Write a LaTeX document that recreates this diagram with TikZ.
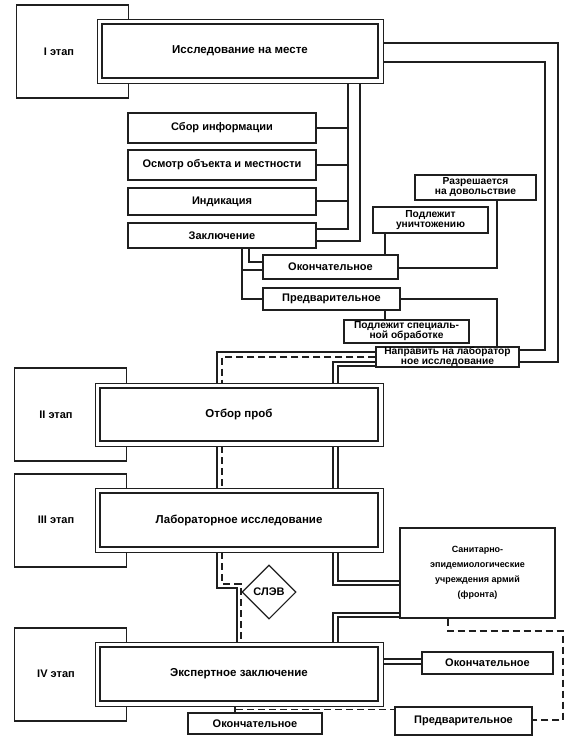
\documentclass[tikz,border=0pt]{standalone}
\usepackage{fontspec}
\setmainfont{Liberation Sans}
\usetikzlibrary{shapes.geometric}
\begin{document}
\begin{tikzpicture}[x=1pt,y=-1pt]
\tikzset{
  ln/.style={draw=black!88, line width=1.1pt},
  dsh/.style={draw=black!88, line width=1.1pt, dash pattern=on 7pt off 4pt},
  bx/.style={draw=black!88, line width=1.2pt, fill=white, inner sep=0pt, align=center,
    font=\fontsize{11}{11.5}\selectfont\bfseries},
  smallbx/.style={bx, font=\fontsize{10.2}{10}\selectfont\bfseries},
  stagebx/.style={draw=black!88, line width=1.1pt, fill=white, minimum width=112pt, minimum height=93pt, inner sep=0pt},
  stagetxt/.style={inner sep=0pt, font=\fontsize{11}{11}\selectfont\bfseries},
  mainout/.style={draw=black!88, line width=0.9pt, fill=white, minimum width=288pt, minimum height=64pt, inner sep=0pt},
  mainin/.style={bx, line width=1.9pt, minimum width=278pt, minimum height=54pt, font=\fontsize{11.5}{12}\selectfont\bfseries},
}
\useasboundingbox[fill=white] (0,0) rectangle (567,743);

% ---------- Stage I ----------
\node[stagebx] (s1) at (72.5,51.5) {};
\node[stagetxt] (s1t) at (59,52) {I этап};
\node[mainout, minimum width=286pt] (m1o) at (240,51) {};
\node[mainin, minimum width=276pt] (m1) at (240,51) {Исследование на месте};

\node[bx, minimum width=188pt, minimum height=30pt] (sbor) at (222,128) {Сбор информации};
\node[bx, minimum width=188pt, minimum height=30pt] (osm) at (222,165) {Осмотр объекта и местности};
\node[bx, minimum width=188pt, minimum height=27pt] (ind) at (222,201.5) {Индикация};
\node[bx, minimum width=188pt, minimum height=25pt] (zakl) at (222,235.5) {Заключение};

\node[smallbx, minimum width=121pt, minimum height=25pt] (rz) at (475.5,187.5) {Разрешается\\на довольствие};
\node[smallbx, minimum width=115pt, minimum height=26pt] (pu) at (430.5,220) {Подлежит\\уничтожению};
\node[bx, minimum width=135pt, minimum height=24pt] (ok1) at (330.5,267) {Окончательное};
\node[bx, minimum width=137pt, minimum height=22pt] (pr1) at (331.5,299) {Предварительное};
\node[smallbx, minimum width=125pt, minimum height=23pt] (ps) at (406.5,331.5) {Подлежит специаль-\\ной обработке};
\node[smallbx, minimum width=143pt, minimum height=20pt] (napr) at (447.5,357) {Направить на лаборатор\\ное исследование};

% bus from main box I
\draw[ln] (m1o.south -| 348,0) -- (348,229) -- (zakl.east |- 0,229);
\draw[ln] (348,128) -- (sbor.east |- 0,128);
\draw[ln] (348,165) -- (osm.east |- 0,165);
\draw[ln] (348,201) -- (ind.east |- 0,201);
\draw[ln] (m1o.south -| 360,0) -- (360,241) -- (zakl.east |- 0,241);

% right loop
\draw[ln] (m1o.east |- 0,43) -- (558,43) -- (558,362) -- (napr.east |- 0,362);
\draw[ln] (m1o.east |- 0,62) -- (545,62) -- (545,350) -- (napr.east |- 0,350);

% conclusion branches
\draw[ln] (zakl.south -| 249,0) -- (249,262) -- (ok1.west |- 0,262);
\draw[ln] (zakl.south -| 242,0) -- (242,299) -- (pr1.west |- 0,299);
\draw[ln] (242,270) -- (ok1.west |- 0,270);
\draw[ln] (pu.south -| 385,0) -- (ok1.north -| 385,0);
\draw[ln] (rz.south -| 497,0) -- (497,268) -- (ok1.east |- 0,268);
\draw[ln] (pr1.east) -- (497,299) -- (napr.north -| 497,0);
\draw[ln] (pr1.south -| 385,0) -- (ps.north -| 385,0);

% ---------- Stage II ----------
\node[stagebx] (s2) at (70.5,414.5) {};
\node[stagetxt] (s2t) at (56,414.5) {II этап};
\node[mainout, minimum height=63pt] (m2o) at (239,414.5) {};
\node[mainin, minimum height=53pt] (m2) at (239,414.5) {Отбор проб};

\draw[ln] (napr.west |- 0,352) -- (217,352) -- (m2o.north -| 217,0);
\draw[dsh] (napr.west |- 0,357) -- (222,357) -- (m2o.north -| 222,0);
\draw[ln] (napr.west |- 0,362) -- (333,362) -- (m2o.north -| 333,0);
\draw[ln] (napr.west |- 0,366) -- (338,366) -- (m2o.north -| 338,0);

% ---------- Stage III ----------
\node[stagebx] (s3) at (70.5,520.5) {};
\node[stagetxt] (s3t) at (56,520) {III этап};
\node[mainout] (m3o) at (239,520) {};
\node[mainin] (m3) at (239,520) {Лабораторное исследование};

\draw[ln] (m2o.south -| 217,0) -- (m3o.north -| 217,0);
\draw[dsh] (m2o.south -| 222,0) -- (m3o.north -| 222,0);
\draw[ln] (m2o.south -| 333,0) -- (m3o.north -| 333,0);
\draw[ln] (m2o.south -| 338,0) -- (m3o.north -| 338,0);

\node[bx, font=\fontsize{9}{15}\selectfont\bfseries, minimum width=155pt, minimum height=90pt] (san) at (477.5,573)
  {Санитарно-\\эпидемиологические\\учреждения армий\\(фронта)};
\node[draw=black!88, line width=1.1pt, diamond, shape aspect=1, minimum size=54pt, inner sep=0pt,
  font=\fontsize{11}{11}\selectfont\bfseries] (slev) at (269,592) {СЛЭВ};

% ---------- Stage IV ----------
\node[stagebx] (s4) at (70.5,674.5) {};
\node[stagetxt] (s4t) at (56,674) {IV этап};
\node[mainout] (m4o) at (239,674) {};
\node[mainin] (m4) at (239,674) {Экспертное заключение};

\node[bx, minimum width=131pt, minimum height=22pt] (ok4r) at (487.5,663) {Окончательное};
\node[bx, minimum width=134pt, minimum height=21pt] (ok4b) at (255,723.5) {Окончательное};
\node[bx, minimum width=137pt, minimum height=28pt] (pr4) at (463.5,721) {Предварительное};

\draw[ln] (m3o.south -| 217,0) -- (217,588) -- (237,588) -- (m4o.north -| 237,0);
\draw[dsh] (m3o.south -| 222,0) -- (222,584) -- (241,584) -- (m4o.north -| 241,0);
\draw[ln] (m3o.south -| 333,0) -- (333,585) -- (san.west |- 0,585);
\draw[ln] (m3o.south -| 338,0) -- (338,581) -- (san.west |- 0,581);
\draw[ln] (san.west |- 0,613) -- (333,613) -- (m4o.north -| 333,0);
\draw[ln] (san.west |- 0,617) -- (338,617) -- (m4o.north -| 338,0);
\draw[dsh] (san.south -| 448,0) -- (448,631) -- (563,631) -- (563,720) -- (pr4.east |- 0,720);

\draw[ln] (m4o.east |- 0,659) -- (ok4r.west |- 0,659);
\draw[ln] (m4o.east |- 0,664) -- (ok4r.west |- 0,664);
\draw[ln] (m4o.south -| 235,0) -- (ok4b.north -| 235,0);
\coordinate (j4) at (236,709.5);
\draw[dsh] (j4) -- (pr4.west |- 0,709.5);
\end{tikzpicture}
\end{document}
